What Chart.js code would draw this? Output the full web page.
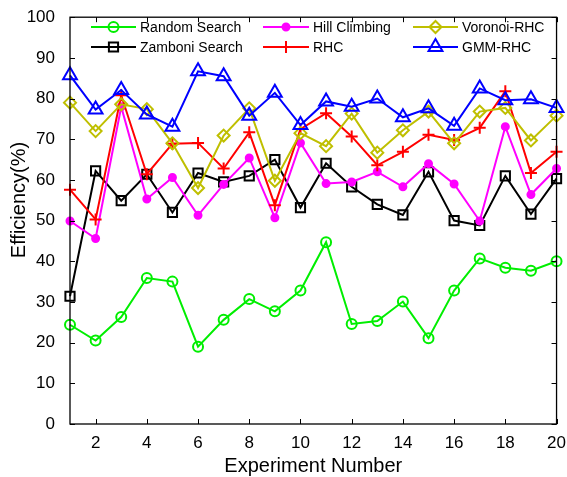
<!DOCTYPE html>
<html>
<head>
<meta charset="utf-8">
<script src="https://cdn.jsdelivr.net/npm/chart.js@4/dist/chart.umd.min.js"></script>
<style>
  html, body { margin: 0; padding: 0; background: #fff; }
</style>
</head>
<body>
<canvas id="grafico" width="567" height="477"></canvas>
<script>
// experiment index on the x axis
const experimentos = [1, 2, 3, 4, 5, 6, 7, 8, 9, 10, 11, 12, 13, 14, 15, 16, 17, 18, 19, 20];

// efficiency (%) per method
const randomSearch  = [24.4, 20.5, 26.3, 35.9, 35.0, 19.0, 25.6, 30.7, 27.7, 32.8, 44.7, 24.6, 25.3, 30.1, 21.1, 32.8, 40.7, 38.4, 37.7, 40.0];
const zamboniSearch = [31.4, 62.2, 54.9, 61.4, 52.0, 61.7, 59.5, 61.0, 65.0, 53.2, 64.1, 58.3, 54.0, 51.4, 62.0, 50.0, 48.8, 61.0, 51.6, 60.3];
const hillClimbing  = [49.9, 45.6, 78.0, 55.3, 60.6, 51.3, 58.9, 65.4, 50.7, 69.1, 59.1, 59.5, 62.0, 58.3, 64.0, 59.0, 49.9, 73.1, 56.4, 62.8];
const rhc           = [57.6, 50.3, 80.8, 61.4, 68.9, 69.1, 62.8, 71.7, 53.8, 72.5, 76.4, 70.7, 63.6, 66.9, 71.1, 69.8, 72.8, 81.8, 61.7, 66.9];
const voronoiRhc    = [79.0, 72.0, 78.6, 77.4, 69.0, 58.0, 70.9, 77.6, 59.8, 71.5, 68.3, 76.3, 66.7, 72.2, 76.8, 69.0, 76.8, 77.7, 69.7, 75.8];
const gmmRhc        = [85.7, 77.3, 82.1, 76.1, 73.1, 86.7, 85.5, 75.8, 81.4, 73.5, 79.3, 78.0, 80.0, 75.4, 77.6, 73.3, 82.5, 79.6, 79.8, 77.7];

// tick labels
const xTicks = [2, 4, 6, 8, 10, 12, 14, 16, 18, 20];
const yTicks = [0, 10, 20, 30, 40, 50, 60, 70, 80, 90, 100];

const fonte = "'Liberation Sans', Arial, sans-serif";
const vazio = 'rgba(0,0,0,0)';

function serie(label, valores, cor, estilo, raio, preenchido, ordem) {
  return {
    label,
    data: experimentos.map((x, i) => ({ x, y: valores[i] })),
    borderColor: cor,
    backgroundColor: preenchido ? cor : vazio,
    borderWidth: 2,
    pointStyle: estilo,
    pointRadius: raio,
    pointHoverRadius: raio,
    pointBorderColor: cor,
    pointBackgroundColor: preenchido ? cor : vazio,
    pointBorderWidth: 2,
    tension: 0,
    clip: false,
    order: ordem
  };
}

const datasets = [
  serie('Random Search', randomSearch, '#00ee00', 'circle', 5, false, 6),
  serie('Zamboni Search', zamboniSearch, '#000000', 'rect', 6.5, false, 5),
  serie('Hill Climbing', hillClimbing, '#ff00ff', 'circle', 3.5, true, 4),
  serie('RHC', rhc, '#ff0000', 'cross', 6, false, 3),
  serie('Voronoi-RHC', voronoiRhc, '#bfbf00', 'rectRot', 6, false, 2),
  serie('GMM-RHC', gmmRhc, '#0000ff', 'triangle', 8, false, 1)
];

// legend slots: [line start, line end, text x, row y]
const posLegenda = [
  [91, 136, 140, 27],
  [91, 136, 140, 47],
  [263, 309, 313, 27],
  [263, 309, 313, 47],
  [413, 458, 462, 27],
  [413, 458, 462, 47]
];

// frame, inward ticks, axis titles and legend
const moldura = {
  id: 'moldura',
  afterDraw(chart) {
    const ctx = chart.ctx;
    const a = chart.chartArea;
    const sx = chart.scales.x, sy = chart.scales.y;
    ctx.save();
    ctx.strokeStyle = '#000';
    ctx.lineWidth = 1.3;
    ctx.strokeRect(a.left, a.top, a.right - a.left, a.bottom - a.top);
    ctx.beginPath();
    xTicks.forEach(v => {
      const px = Math.round(sx.getPixelForValue(v)) + 0.5;
      ctx.moveTo(px, a.bottom); ctx.lineTo(px, a.bottom - 5);
      ctx.moveTo(px, a.top); ctx.lineTo(px, a.top + 5);
    });
    yTicks.forEach(v => {
      const py = Math.round(sy.getPixelForValue(v)) + 0.5;
      ctx.moveTo(a.left, py); ctx.lineTo(a.left + 5, py);
      ctx.moveTo(a.right, py); ctx.lineTo(a.right - 5, py);
    });
    ctx.lineWidth = 1;
    ctx.stroke();

    ctx.fillStyle = '#000';
    ctx.font = '20px ' + fonte;
    ctx.textAlign = 'center';
    ctx.textBaseline = 'middle';
    ctx.fillText('Experiment Number', (a.left + a.right) / 2, 466);
    ctx.save();
    ctx.translate(19, 200);
    ctx.rotate(-Math.PI / 2);
    ctx.fillText('Efficiency(%)', 0, 0);
    ctx.restore();

    ctx.font = '14px ' + fonte;
    ctx.textAlign = 'left';
    chart.data.datasets.forEach((ds, i) => {
      const [x0, x1, tx, y] = posLegenda[i];
      ctx.strokeStyle = ds.borderColor;
      ctx.lineWidth = 2;
      ctx.beginPath();
      ctx.moveTo(x0, y); ctx.lineTo(x1, y);
      ctx.stroke();
      ctx.fillStyle = ds.pointBackgroundColor;
      Chart.helpers.drawPoint(ctx, {
        pointStyle: ds.pointStyle,
        radius: ds.pointRadius,
        rotation: 0,
        borderWidth: 2
      }, (x0 + x1) / 2, y);
      ctx.fillStyle = '#000';
      ctx.fillText(ds.label, tx, y + 1);
    });
    ctx.restore();
  }
};

new Chart(document.getElementById('grafico'), {
  type: 'line',
  data: { datasets },
  plugins: [moldura],
  options: {
    responsive: false,
    animation: false,
    layout: { padding: { top: 13, right: 10, left: 0, bottom: 0 } },
    plugins: {
      legend: { display: false },
      tooltip: { enabled: false }
    },
    scales: {
      x: {
        type: 'linear',
        min: 1,
        max: 20,
        afterBuildTicks: s => { s.ticks = xTicks.map(v => ({ value: v })); },
        afterFit: s => { s.height = 53; },
        grid: { display: false },
        border: { display: false },
        ticks: { color: '#000', font: { family: fonte, size: 17 }, padding: 1, maxRotation: 0 }
      },
      y: {
        type: 'linear',
        min: 0,
        max: 100,
        afterBuildTicks: s => { s.ticks = yTicks.map(v => ({ value: v })); },
        afterFit: s => { s.width = 70; },
        grid: { display: false },
        border: { display: false },
        ticks: { color: '#000', font: { family: fonte, size: 17 }, padding: 7 }
      }
    }
  }
});
</script>
</body>
</html>
